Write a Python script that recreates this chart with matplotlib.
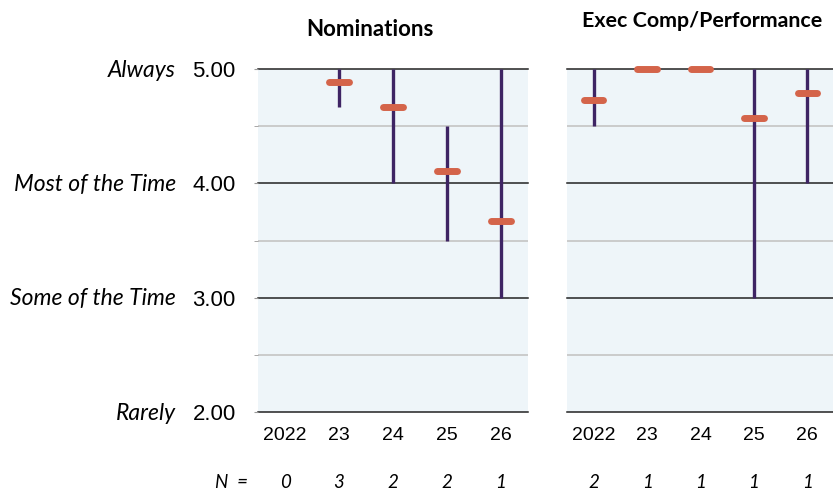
import numpy as np
import matplotlib.pyplot as plt
from matplotlib.transforms import blended_transform_factory

# -------------------------------
# Dados
# -------------------------------
anos = ['2022', '23', '24', '25', '26']
niveis = [5, 4, 3, 2]
rotulos_niveis = ['Always', 'Most of the Time', 'Some of the Time', 'Rarely']

# Nominations
nom_media = [np.nan, 4.89, 4.67, 4.11, 3.67]
nom_min = [np.nan, 4.67, 4.0, 3.5, 3.0]
nom_max = [np.nan, 5.0, 5.0, 4.5, 5.0]
nom_n = [0, 3, 2, 2, 1]

# Exec Comp/Performance
exe_media = [4.73, 5.0, 5.0, 4.57, 4.79]
exe_min = [4.5, 5.0, 5.0, 3.0, 4.0]
exe_max = [5.0, 5.0, 5.0, 5.0, 5.0]
exe_n = [2, 1, 1, 1, 1]

COR_FUNDO = '#EEF5F9'
COR_BARRA = '#3E2464'
COR_MEDIA = '#D4644A'

fig = plt.figure(figsize=(8.33, 4.93), dpi=100)
ax1 = fig.add_axes([258 / 833, 1 - 412 / 493, 270 / 833, 343 / 493])
ax2 = fig.add_axes([567 / 833, 1 - 412 / 493, 267 / 833, 343 / 493])


def painel(ax, media, vmin, vmax, n, mostrar_y):
    x = np.arange(len(anos))
    ax.set_facecolor(COR_FUNDO)
    ax.set_xlim(-0.5, 4.5)
    ax.set_ylim(2, 5)
    for s in ax.spines.values():
        s.set_visible(False)
    for v in [2.5, 3.5, 4.5]:
        ax.axhline(v, color='#C4C4C4', lw=1.2, zorder=1)
    for v in niveis:
        ax.axhline(v, color='#222222', lw=1.1, zorder=1, clip_on=False)

    for xi, a, b in zip(x, vmin, vmax):
        if np.isnan(a):
            continue
        ax.vlines(xi, a, b, color=COR_BARRA, lw=2.4, zorder=2)
    for xi, m in zip(x, media):
        if np.isnan(m):
            continue
        ax.hlines(m, xi - 0.18, xi + 0.18, color=COR_MEDIA, lw=5,
                  capstyle='round', zorder=3, clip_on=False)

    ax.set_xticks(x)
    ax.set_xticklabels(anos, family='Liberation Sans', fontsize=14)
    ax.tick_params(axis='x', length=0, pad=11)

    ax.set_yticks(niveis)
    ax.set_yticks([2.5, 3.5, 4.5], minor=True)
    if mostrar_y:
        ax.set_yticklabels(['%.2f' % v for v in niveis],
                           family='Liberation Sans', fontsize=16)
        ax.tick_params(axis='y', which='both', length=3, color='#999999', pad=13)
        tr = blended_transform_factory(fig.transFigure, ax.transData)
        for v, r in zip(niveis, rotulos_niveis):
            fig.text(176 / 833, v - 0.01, r, transform=tr, ha='right', va='center',
                     family='Lato', style='italic', fontsize=16.5)
    else:
        ax.set_yticklabels([])
        ax.tick_params(axis='y', which='both', length=0)

    tr_n = blended_transform_factory(ax.transData, fig.transFigure)
    for xi, v in zip(x, n):
        ax.text(xi, 1 - 482 / 493, str(v), transform=tr_n, ha='center',
                va='center', family='Lato', style='italic', fontsize=13.5)


painel(ax1, nom_media, nom_min, nom_max, nom_n, True)
painel(ax2, exe_media, exe_min, exe_max, exe_n, False)

fig.text(248 / 833, 1 - 482 / 493, 'N  =', ha='right', va='center',
         family='Lato', style='italic', fontsize=13.5)
fig.text(370 / 833, 1 - 30 / 493, 'Nominations', ha='center', va='center',
         family='Lato', weight='bold', fontsize=16)
fig.text(702 / 833, 1 - 21 / 493, 'Exec Comp/Performance', ha='center',
         va='center', family='Lato', weight='bold', fontsize=15.4)

fig.savefig('out.png', dpi=100)
